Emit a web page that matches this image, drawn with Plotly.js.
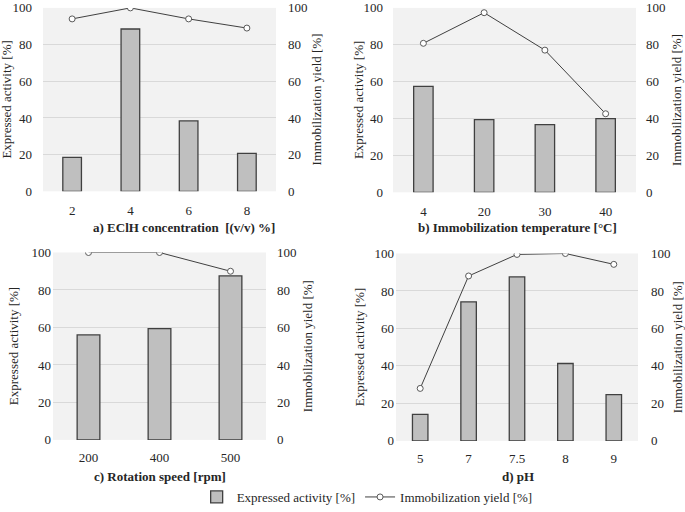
<!DOCTYPE html>
<html>
<head>
<meta charset="utf-8">
<script src="https://cdn.plot.ly/plotly-3.0.1.min.js"></script>
<style>html,body{margin:0;padding:0;background:#fff;}#chart{width:685px;height:512px;}</style>
</head>
<body>
<div id="chart"></div>
<script>
// ---- data ----
const catA = ['2', '4', '6', '8'];
const activityA = [18.5, 88.5, 38.4, 20.7];
const yieldA = [94, 100, 94, 89];

const catB = ['4', '20', '30', '40'];
const activityB = [57.4, 39.4, 36.7, 40.0];
const yieldB = [80.8, 97.4, 77.1, 42.6];

const catC = ['200', '400', '500'];
const activityC = [56.0, 59.4, 87.5];
const yieldC = [100, 100, 90];

const catD = ['5', '7', '7.5', '8', '9'];
const activityD = [14.2, 74.2, 87.5, 41.3, 24.7];
const yieldD = [28, 88, 99.5, 100, 94.2];

const xTitles = ['a) EClH concentration\u00a0\u00a0[(v/v) %]', 'b) Immobilization temperature [°C]', 'c) Rotation speed [rpm]', 'd) pH'];
const leftTitle = 'Expressed activity [%]';
const rightTitle = 'Immobilization yield [%]';

// ---- layout helpers ----
const W = 685, H = 512;
const FONT = "'Liberation Serif', 'Times New Roman', 'DejaVu Serif', serif";
const px = v => v / W;
const py = v => 1 - v / H;

// panel boxes in pixels: [left, right, top, bottom]
const boxes = [[43, 276, 8, 194], [393, 636, 8, 195], [53, 266, 256, 446], [396, 638, 257, 447]];
const leftStand = [10, 9, 1, 1];
const rightStand = [11, 9, 10, 12];
const xStand = [10, 10, 8, 8];
const leftTitleX = [7, 358, 13, 359];
const rightTitleX = [317, 676, 307, 677];
const xTitleX = [184, 517, 160, 518];
const xTitleY = [231, 231, 483, 483];

const cats = [catA, catB, catC, catD];
const acts = [activityA, activityB, activityC, activityD];
const ylds = [yieldA, yieldB, yieldC, yieldD];

const traces = [];
const layout = {
  width: W, height: H,
  margin: {l: 0, r: 0, t: 0, b: 0},
  paper_bgcolor: '#ffffff',
  plot_bgcolor: '#f2f2f2',
  font: {family: FONT, size: 13, color: '#262626'},
  bargap: 0.68,
  showlegend: true,
  legend: {orientation: 'h', x: 0.536, xanchor: 'center', y: py(504), yanchor: 'middle',
           font: {family: FONT, size: 13, color: '#262626'}, bgcolor: 'rgba(0,0,0,0)', itemwidth: 30},
  annotations: []
};

for (let i = 0; i < 4; i++) {
  const xa = i === 0 ? 'x' : 'x' + (i + 1);
  const yl = i === 0 ? 'y' : 'y' + (2 * i + 1);
  const yr = 'y' + (2 * i + 2);
  const ylName = i === 0 ? 'yaxis' : 'yaxis' + (2 * i + 1);
  const yrName = 'yaxis' + (2 * i + 2);
  const xaName = i === 0 ? 'xaxis' : 'xaxis' + (i + 1);
  const b = boxes[i];

  traces.push({
    type: 'bar', x: cats[i], y: acts[i], xaxis: xa, yaxis: yl,
    name: leftTitle, showlegend: i === 0,
    marker: {color: '#bfbfbf', line: {color: '#404040', width: 1.3}}
  });
  traces.push({
    type: 'scatter', mode: 'lines+markers', x: cats[i], y: ylds[i], xaxis: xa, yaxis: yr,
    name: rightTitle, showlegend: i === 0,
    line: {color: '#404040', width: 1},
    marker: {symbol: 'circle', size: 6, color: '#ffffff', line: {color: '#595959', width: 1}}
  });

  const tf = {family: FONT, size: 13, color: '#262626'};
  layout[xaName] = {
    domain: [px(b[0]), px(b[1])], anchor: yl,
    type: 'category', showgrid: false, zeroline: false, showline: false,
    ticks: '', ticklabelstandoff: xStand[i], ticklabeloverflow: 'allow',
    tickfont: tf, fixedrange: true
  };
  layout[ylName] = {
    domain: [py(b[3]), py(b[2])], anchor: xa,
    range: [0, 100], dtick: 20, tick0: 0,
    showgrid: true, gridcolor: '#d9d9d9', gridwidth: 1, zeroline: false, showline: false,
    ticks: '', ticklabelstandoff: leftStand[i], ticklabeloverflow: 'allow',
    tickfont: tf, fixedrange: true
  };
  layout[yrName] = {
    overlaying: yl, anchor: xa, side: 'right',
    range: [0, 100], dtick: 20, tick0: 0,
    showgrid: false, zeroline: false, showline: false,
    ticks: '', ticklabelstandoff: rightStand[i], ticklabeloverflow: 'allow',
    tickfont: tf, fixedrange: true
  };

  const midY = py((b[2] + b[3]) / 2);
  layout.annotations.push({
    text: leftTitle, xref: 'paper', yref: 'paper', x: px(leftTitleX[i]), y: midY,
    xanchor: 'center', yanchor: 'middle', textangle: -90, showarrow: false, font: tf
  });
  layout.annotations.push({
    text: rightTitle, xref: 'paper', yref: 'paper', x: px(rightTitleX[i]), y: midY,
    xanchor: 'center', yanchor: 'middle', textangle: -90, showarrow: false, font: tf
  });
  layout.annotations.push({
    text: '<b>' + xTitles[i] + '</b>', xref: 'paper', yref: 'paper', x: px(xTitleX[i]), y: py(xTitleY[i]),
    xanchor: 'center', yanchor: 'middle', showarrow: false, font: tf
  });
}

Plotly.newPlot('chart', traces, layout, {displayModeBar: false, staticPlot: true});
</script>
</body>
</html>
